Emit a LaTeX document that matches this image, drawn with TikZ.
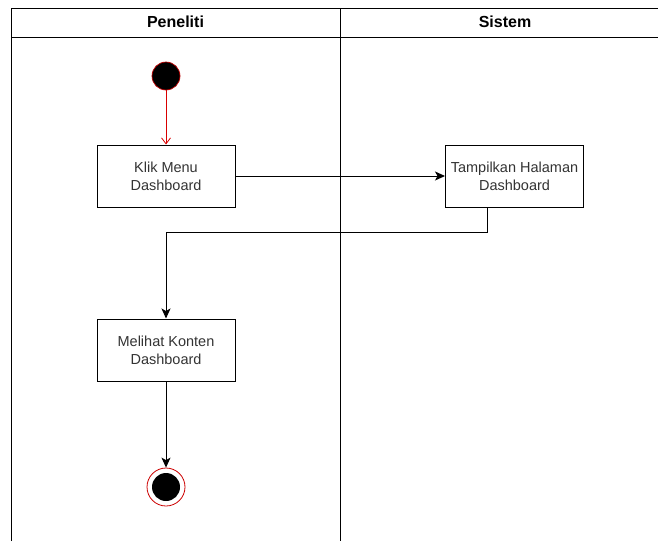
\documentclass[tikz,border=0pt]{standalone}
\usepackage{fontspec}
\setmainfont{Liberation Sans}
\usetikzlibrary{arrows.meta}

\begin{document}
\begin{tikzpicture}[x=1pt,y=-1pt,line width=1pt,
    aksi/.style={draw,rectangle,minimum width=138pt,minimum height=62pt,align=center,
      inner sep=1pt,text=black!80,font=\fontsize{14.5}{18}\selectfont},
    judul/.style={font=\bfseries\fontsize{16}{18}\selectfont},
    mulai/.style={circle,fill=black,draw=red!75!black,line width=0.7pt,minimum size=28pt,inner sep=0pt},
    akhir/.style={circle,fill=white,draw=red!80!black,line width=0.8pt,minimum size=38pt,inner sep=0pt},
    panah/.style={-{Stealth[length=10pt,width=9pt,inset=2.5pt]}},
    panahmerah/.style={draw=red!85!black,line width=0.8pt,-{Straight Barb[length=6pt,width=9pt]}}]
    \useasboundingbox (0,0) rectangle (658,541);
    % lajur
    \draw (11,541) -- (11,8) -- (658,8);
    \draw (11,37) -- (658,37);
    \draw (340,8) -- (340,541);
    \node[judul] (peneliti) at (175.5,22) {Peneliti};
    \node[judul] (sistem) at (505,22) {Sistem};
    % aktivitas
    \node[mulai] (awal) at (166,76) {};
    \node[aksi] (klik) at (166,176) {Klik Menu\\Dashboard};
    \node[aksi] (tampil) at (514.5,176) {Tampilkan Halaman\\Dashboard};
    \node[aksi] (lihat) at (166,350) {Melihat Konten\\Dashboard};
    \node[akhir] (selesai) at (166,487) {};
    \node[circle,fill=black,minimum size=28pt,inner sep=0pt] (selesaiisi) at (selesai) {};
    \coordinate (belok) at (166,232);
    % alur
    \draw[panahmerah] (awal) -- (klik);
    \draw[panah] (klik) -- (tampil);
    \draw[panah] ([xshift=-27.5pt]tampil.south) |- (belok) -- (lihat.north);
    \draw[panah] (lihat) -- (selesai);
\end{tikzpicture}
\end{document}
